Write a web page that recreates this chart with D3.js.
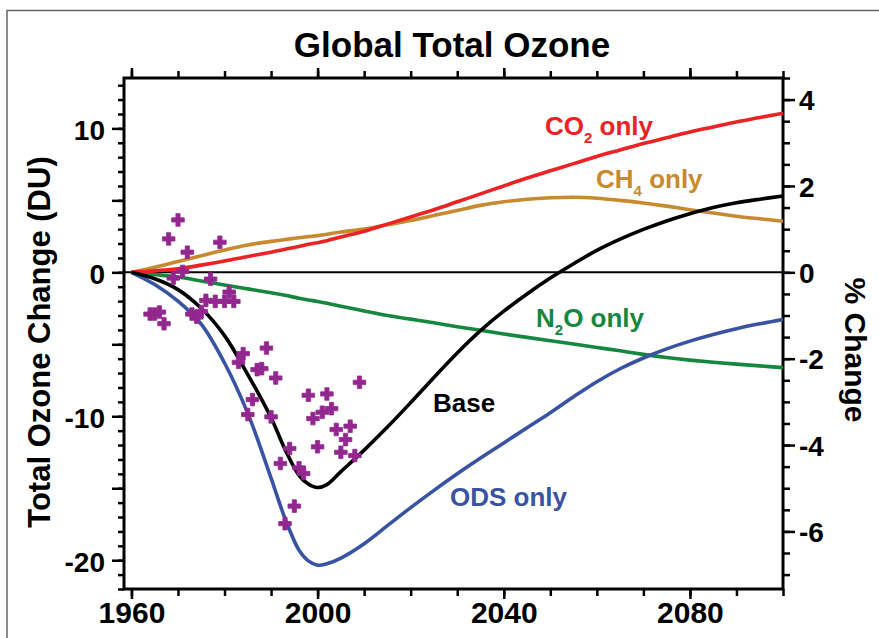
<!DOCTYPE html>
<html>
<head>
<meta charset="utf-8">
<script src="https://cdn.jsdelivr.net/npm/d3@7"></script>
<style>
  html, body { margin: 0; padding: 0; background: #fff; }
  svg { display: block; }
</style>
</head>
<body>
<script>
// Model years shared by all scenario curves
const years = [1960, 1965, 1970, 1975, 1980, 1985, 1990, 1993, 1996, 1998, 2000, 2002, 2005,
               2010, 2015, 2020, 2025, 2030, 2035, 2040, 2045, 2050, 2055, 2060, 2065, 2070,
               2075, 2080, 2085, 2090, 2095, 2100];

// Total ozone change (DU) per scenario
const baseDU = [0, -0.45, -1.2, -2.5, -4.4, -7.1, -10.1, -12.3, -14.1, -14.7, -14.95, -14.75, -13.85,
                -12.35, -10.75, -9.05, -7.3, -5.6, -4.05, -2.7, -1.5, -0.4, 0.6, 1.52, 2.3, 2.98,
                3.57, 4.07, 4.5, 4.83, 5.08, 5.3];
const odsDU = [0, -0.85, -2.0, -3.6, -6.3, -9.8, -14.3, -17.1, -19.3, -20.05, -20.35, -20.25, -19.85,
               -18.85, -17.6, -16.35, -15.15, -14.0, -12.9, -11.85, -10.8, -9.75, -8.65, -7.6, -6.7, -5.95,
               -5.32, -4.78, -4.32, -3.92, -3.58, -3.28];
const co2DU = [0, 0.1, 0.25, 0.5, 0.78, 1.1, 1.4, 1.6, 1.8, 1.95, 2.05, 2.2, 2.45,
               2.85, 3.35, 3.85, 4.35, 4.9, 5.45, 6.0, 6.55, 7.05, 7.55, 8.05, 8.5, 8.95,
               9.35, 9.75, 10.1, 10.45, 10.75, 11.05];
const ch4DU = [0, 0.35, 0.75, 1.15, 1.55, 1.9, 2.15, 2.28, 2.4, 2.48, 2.55, 2.65, 2.8,
               3.0, 3.3, 3.6, 3.95, 4.3, 4.65, 4.9, 5.08, 5.18, 5.22, 5.15, 5.0, 4.82,
               4.6, 4.35, 4.12, 3.9, 3.72, 3.55];
const n2oDU = [0, -0.15, -0.33, -0.6, -0.88, -1.15, -1.42, -1.6, -1.8, -1.92, -2.02, -2.15, -2.35,
               -2.68, -3.0, -3.25, -3.5, -3.78, -4.03, -4.28, -4.52, -4.75, -4.98, -5.22, -5.45, -5.7,
               -5.92, -6.1, -6.25, -6.38, -6.5, -6.62];

// Observed annual values
const obsYears = [1964, 1965, 1966, 1967, 1968, 1969, 1970, 1971, 1972, 1973, 1974, 1975, 1976,
                  1977, 1978, 1979, 1980, 1981, 1982, 1983, 1984, 1985, 1986, 1987, 1988, 1989,
                  1990, 1991, 1992, 1993, 1994, 1995, 1996, 1997, 1998, 1999, 2000, 2001, 2002,
                  2003, 2004, 2005, 2006, 2007, 2008, 2009];
const obsDU = [-2.9, -2.9, -2.76, -3.57, 2.32, -0.4, 3.64, 0.06, 1.4, -2.9, -3.11, -2.72, -1.95,
               -0.47, -2.02, 2.09, -2.02, -1.37, -2.02, -6.25, -5.65, -9.88, -8.84, -6.76, -6.69, -5.26,
               -10.04, -7.34, -13.28, -17.46, -12.24, -16.24, -13.58, -13.97, -8.54, -10.16, -12.12, -9.72, -8.45,
               -9.47, -10.92, -12.5, -11.62, -10.69, -12.73, -7.64];

// Axis ticks
const yearTicks = [1960, 2000, 2040, 2080];
const duLabels = [-20, -10, 0, 10];
const pctLabels = [-6, -4, -2, 0, 2, 4];
const duPerPercent = 3.0;   // ~300 DU global mean column

const series = [
  {name: "n2o", values: n2oDU, color: "#16873f"},
  {name: "ods", values: odsDU, color: "#3953a4"},
  {name: "ch4", values: ch4DU, color: "#c8892f"},
  {name: "co2", values: co2DU, color: "#ed2224"},
  {name: "base", values: baseDU, color: "#000000"}
];

const font = '"Liberation Sans", Arial, Helvetica, sans-serif';
const width = 879, height = 638;
const plot = {left: 124, right: 783, top: 78, bottom: 589};

// plain hyphen for negatives, like the original
const fmt = d => (d < 0 ? "-" + Math.abs(d) : String(d));

const svg = d3.select("body").append("svg")
    .attr("width", width)
    .attr("height", height)
    .style("font-family", font)
    .style("font-weight", "bold");

// outer panel border (only top / left visible in crop)
svg.append("path")
    .attr("d", `M7,${height} V10.5 H${width}`)
    .attr("fill", "none")
    .attr("stroke", "#666")
    .attr("stroke-width", 1.5);

const x = d3.scaleLinear().domain([1958.4, 2100]).range([plot.left, plot.right]);
const y = d3.scaleLinear().domain([-22, 13.5]).range([plot.bottom, plot.top]);
const yPct = d3.scaleLinear()
    .domain([-22 / duPerPercent, 13.5 / duPerPercent])
    .range([plot.bottom, plot.top]);

// Axes helper: removes domain, styles ticks
function addAxis(axis, tx, ty, fontSize) {
  const g = svg.append("g")
      .attr("transform", `translate(${tx},${ty})`)
      .call(axis);
  g.attr("font-family", font).attr("font-size", fontSize).attr("font-weight", "bold");
  g.select(".domain").remove();
  g.selectAll(".tick line").attr("stroke", "#000").attr("stroke-width", 2.5);
  g.selectAll(".tick text").attr("fill", "#000");
  return g;
}

// left (DU)
addAxis(d3.axisLeft(y).tickValues(d3.range(-22, 14, 1)).tickSize(6).tickFormat(""), plot.left, 0, 10);
addAxis(d3.axisLeft(y).tickValues([-20, -15, -10, -5, 0, 5, 10]).tickSize(12).tickPadding(7)
    .tickFormat(d => duLabels.includes(d) ? fmt(d) : ""), plot.left, 0, 28)
  .selectAll(".tick text").attr("dy", "0.4em");

// right (%)
addAxis(d3.axisRight(yPct).tickValues(d3.range(-7, 4.6, 0.5)).tickSize(7).tickFormat(""), plot.right, 0, 10);
addAxis(d3.axisRight(yPct).tickValues(pctLabels).tickSize(12).tickPadding(4).tickFormat(fmt), plot.right, 0, 28)
  .selectAll(".tick text").attr("dy", "0.36em");

// bottom / top (years)
addAxis(d3.axisBottom(x).tickValues(d3.range(1960, 2101, 10)).tickSize(7).tickFormat(""), 0, plot.bottom, 10);
addAxis(d3.axisBottom(x).tickValues(yearTicks).tickSize(10).tickPadding(3).tickFormat(d3.format("d")), 0, plot.bottom, 30);
addAxis(d3.axisTop(x).tickValues(d3.range(1960, 2101, 10)).tickSize(7).tickFormat(""), 0, plot.top, 10);
addAxis(d3.axisTop(x).tickValues(yearTicks).tickSize(10).tickFormat(""), 0, plot.top, 10);

// frame
svg.append("rect")
    .attr("x", plot.left)
    .attr("y", plot.top)
    .attr("width", plot.right - plot.left)
    .attr("height", plot.bottom - plot.top)
    .attr("fill", "none")
    .attr("stroke", "#000")
    .attr("stroke-width", 3);

// zero line
svg.append("line")
    .attr("x1", plot.left).attr("x2", plot.right)
    .attr("y1", y(0)).attr("y2", y(0))
    .attr("stroke", "#000")
    .attr("stroke-width", 2);

// scenario curves
const line = d3.line()
    .x((d, i) => x(years[i]))
    .y(d => y(d))
    .curve(d3.curveCatmullRom.alpha(0.5));

svg.selectAll(".series")
  .data(series)
  .enter()
  .append("path")
    .attr("class", "series")
    .attr("d", d => line(d.values))
    .attr("fill", "none")
    .attr("stroke", d => d.color)
    .attr("stroke-width", 3.6)
    .attr("stroke-linejoin", "round");

// observations
const obs = obsYears.map((yr, i) => ({year: yr, value: obsDU[i]}));
svg.selectAll(".obs")
  .data(obs)
  .enter()
  .append("path")
    .attr("class", "obs")
    .attr("d", d3.symbol(d3.symbolCross, 88))
    .attr("transform", d => `translate(${x(d.year)},${y(d.value)})`)
    .attr("fill", "#93278f")
    .attr("stroke", "#93278f")
    .attr("stroke-width", 0.8)
    .attr("stroke-linejoin", "round");

// curve labels, with chemical subscripts
function label(px, py, color, parts) {
  const t = svg.append("text")
      .attr("x", px).attr("y", py)
      .attr("fill", color)
      .attr("font-size", 26);
  parts.forEach(p => {
    if (p.sub) {
      t.append("tspan").attr("font-size", 15).attr("dy", 8).text(p.sub);
    } else {
      t.append("tspan").attr("dy", p.after ? -8 : 0).text(p.text);
    }
  });
}
label(545, 135, "#ed2224", [{text: "CO"}, {sub: "2"}, {text: " only", after: true}]);
label(596, 188, "#c8892f", [{text: "CH"}, {sub: "4"}, {text: " only", after: true}]);
label(536, 327, "#16873f", [{text: "N"}, {sub: "2"}, {text: "O only", after: true}]);
label(433, 412, "#000000", [{text: "Base"}]);
label(450, 506, "#3953a4", [{text: "ODS only"}]);

// title and axis titles
svg.append("text")
    .attr("x", 452).attr("y", 57)
    .attr("text-anchor", "middle")
    .attr("font-size", 35)
    .text("Global Total Ozone");

svg.append("text")
    .attr("transform", "translate(50,342) rotate(-90)")
    .attr("text-anchor", "middle")
    .attr("font-size", 31)
    .text("Total Ozone Change (DU)");

svg.append("text")
    .attr("transform", "translate(845,350) rotate(90)")
    .attr("text-anchor", "middle")
    .attr("font-size", 30)
    .text("% Change");
</script>
</body>
</html>
